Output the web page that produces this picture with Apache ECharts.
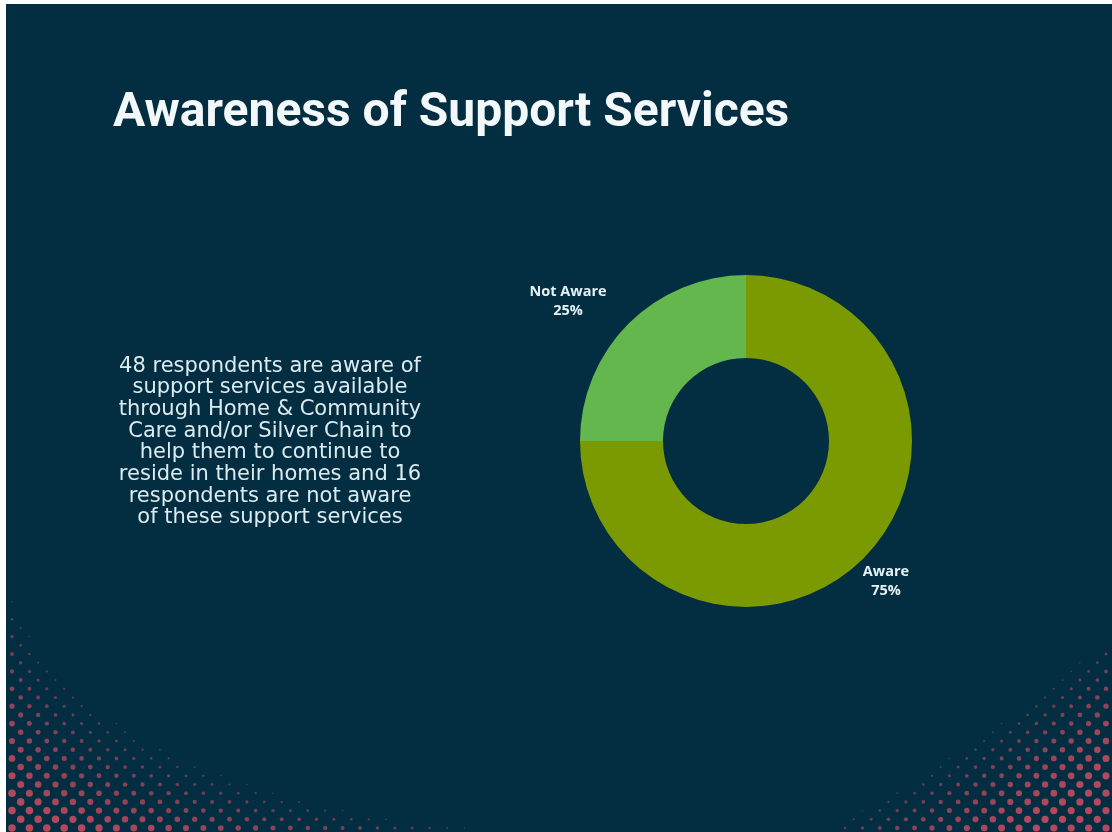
<!DOCTYPE html>
<html>
<head>
<meta charset="utf-8">
<script src="https://cdn.jsdelivr.net/npm/echarts@6/dist/echarts.min.js"></script>
<style>
  html, body { margin: 0; padding: 0; background: #ffffff; width: 1112px; height: 832px; overflow: hidden; }
  #chart { position: absolute; left: 6px; top: 4px; width: 1106px; height: 828px; }
</style>
</head>
<body>
<div id="chart"></div>
<script>
// ---- data ----
const titleText = 'Awareness of Support Services';
const categories = ['Aware', 'Not Aware'];
const values = [48, 16];
const sliceColors = ['#7b9a01', '#63b74c'];
const bodyLines = [
  '48 respondents are aware of',
  'support services available',
  'through Home & Community',
  'Care and/or Silver Chain to',
  'help them to continue to',
  'reside in their homes and 16',
  'respondents are not aware',
  'of these support services'
];
const labelNudge = [0, -38];

// ---- decoration (halftone corner dots) ----
const BG = [3, 46, 66];
const RED = [180, 72, 92];
function mix(t) {
  const c = BG.map((b, i) => Math.round(b + (RED[i] - b) * t));
  return 'rgb(' + c.join(',') + ')';
}
function halftone(W, H, fromRight, a, b, p, rMax) {
  const out = [];
  const sx = 17.4, sy = 8.7;
  for (let row = 0; row * sy <= b + sy; row++) {
    const v = 4 + row * sy;
    const off = (row % 2) ? sy : 0;
    for (let u = 6 + off; u <= a; u += sx) {
      const m = Math.pow(u / a, p) + Math.pow(v / b, p);
      const f = 1 - m;
      if (f <= 0.02) continue;
      const s = Math.min(1, Math.sqrt(f / 0.6));
      const r = rMax * s;
      if (r < 0.6) continue;
      out.push({
        type: 'circle', silent: true,
        shape: { cx: fromRight ? W - u : u, cy: H - v, r: r },
        style: { fill: mix(0.3 + 0.7 * s) }
      });
    }
  }
  return out;
}

const chart = echarts.init(document.getElementById('chart'));
const W = 1106, H = 828;
const dots = halftone(W, H, false, 560, 275, 0.58, 3.8)
  .concat(halftone(W, H, true, 300, 205, 0.9, 3.6));

chart.setOption({
  backgroundColor: '#032e42',
  animation: false,
  title: {
    text: titleText,
    left: 102,
    top: 81,
    textStyle: {
      color: '#f3f8fa',
      fontFamily: 'Roboto',
      fontWeight: 'bold',
      fontSize: 48
    }
  },
  graphic: [
    { type: 'group', z: 0, children: dots },
    {
      type: 'text',
      x: 264,
      y: 438,
      style: {
        text: bodyLines.join('\n'),
        fill: '#dcebef',
        font: '21px "DejaVu Sans"',
        align: 'center',
        verticalAlign: 'middle',
        lineHeight: 21.7
      }
    }
  ],
  series: [{
    type: 'pie',
    center: [740, 437],
    radius: [83, 166],
    startAngle: 90,
    clockwise: true,
    avoidLabelOverlap: false,
    color: sliceColors,
    itemStyle: { borderWidth: 0 },
    label: {
      show: true,
      position: 'outside',
      formatter: '{b}\n{d}%',
      color: '#e6f2f5',
      fontFamily: 'Open Sans',
      fontWeight: 'bold',
      fontSize: 14.5,
      lineHeight: 19,
      distanceToLabelLine: 0
    },
    labelLine: { show: false, length: 32, length2: 0 },
    labelLayout: function (params) {
      return { align: 'center', dx: labelNudge[params.dataIndex] };
    },
    emphasis: { disabled: true },
    data: categories.map((c, i) => ({ name: c, value: values[i] }))
  }]
});
</script>
</body>
</html>
